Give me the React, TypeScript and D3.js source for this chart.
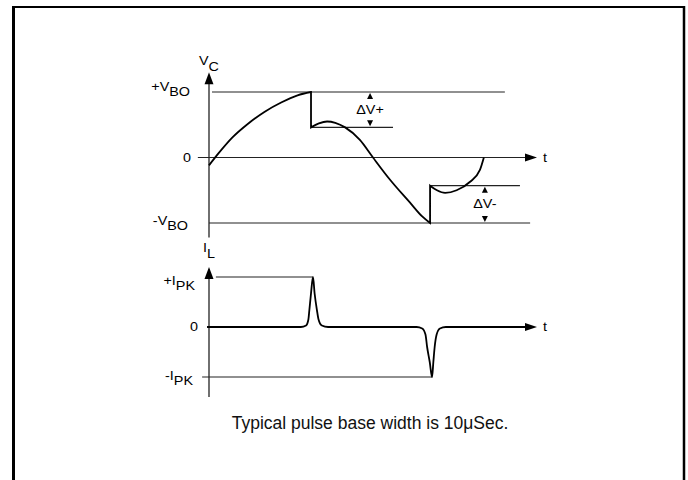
import React from "react";
import * as d3 from "d3";

// time in arbitrary units (0..100 along the t axis), values normalised to V_BO / I_PK
const vcRise: [number, number][] = [
  [0, -0.12], [3, 0.07], [7, 0.3], [12, 0.52], [17, 0.7], [22, 0.84], [27, 0.95], [31.1, 1],
];
const vcFall: [number, number][] = [
  [31.1, 0.46], [33.5, 0.52], [36, 0.55], [38.5, 0.53], [41.5, 0.46], [46, 0.27], [50, 0],
  [55.2, -0.34], [61.3, -0.69], [65, -0.9], [67.4, -1],
];
const vcRecover: [number, number][] = [
  [67.4, -0.43], [69.5, -0.5], [72, -0.54], [75.5, -0.5], [79.6, -0.37], [82.6, -0.19], [83.8, 0],
];

const ilCurve: [number, number][] = [
  [-0.6, 0], [28, 0], [29.6, 0.03], [30.3, 0.15], [30.6, 0.34], [31.1, 0.67], [31.7, 1],
  [32.2, 0.67], [32.9, 0.34], [33.4, 0.15], [34.4, 0.03], [36.3, 0],
  [63.3, 0], [65, -0.03], [66, -0.15], [66.5, -0.4], [67.3, -0.7], [68, -1],
  [68.4, -0.7], [68.8, -0.4], [69.4, -0.15], [70.4, -0.03], [72.2, 0], [98, 0],
];

// reference levels: value, start time, end time
const vLevels = [
  { v: 1, from: 0.9, to: 90.2 },
  { v: 0, from: -3.4, to: 98 },
  { v: -1, from: 0, to: 97.9 },
  { v: 0.46, from: 31.1, to: 56.1 },
  { v: -0.43, from: 67.4, to: 94.8 },
];
const iLevels = [
  { v: 1, from: 2.1, to: 31.6 },
  { v: -1, from: -2.1, to: 68 },
];

const deltas = [
  { label: "ΔV+", t: 49.1, hi: 1, lo: 0.46 },
  { label: "ΔV-", t: 84.1, hi: -0.43, lo: -1 },
];

const caption = "Typical pulse base width is 10μSec.";

const W = 688;
const H = 480;
const FONT = "'Liberation Sans', Arial, Helvetica, sans-serif";
const SX = 1.15;

const x = d3.scaleLinear().domain([0, 100]).range([209, 537]);
const yV = d3.scaleLinear().domain([-1, 1]).range([223, 92]);
const yI = d3.scaleLinear().domain([-1, 1]).range([377, 277]);

function Label(props: { x: number; y: number; main: string; sub?: string; sup?: string; anchor?: string }) {
  const { sub, sup, main, anchor = "end" } = props;
  return (
    <text
      transform={`translate(${props.x},${props.y}) scale(${SX},1)`}
      textAnchor={anchor}
      fontFamily={FONT}
      fontSize={12.5}
      fill="#000"
    >
      {sup !== undefined ? (
        <>
          <tspan dy={-5}>{sup}</tspan>
          <tspan dy={5}>{main}</tspan>
        </>
      ) : (
        <>
          <tspan>{main}</tspan>
          {sub !== undefined && <tspan dy={6}>{sub}</tspan>}
        </>
      )}
    </text>
  );
}

export default function App() {
  const lineV = d3.line<[number, number]>().x(d => x(d[0])).y(d => yV(d[1])).curve(d3.curveMonotoneX);
  const lineI = d3.line<[number, number]>().x(d => x(d[0])).y(d => yI(d[1])).curve(d3.curveMonotoneX);

  const vcPath =
    (lineV(vcRise) || "") +
    (lineV(vcFall) || "").replace(/^M/, "L") +
    (lineV(vcRecover) || "").replace(/^M/, "L");

  const x0 = x(0);
  const tTip = x(100);

  return (
    <svg width={W} height={H} style={{ position: "absolute", left: 0, top: 0 }}>
      <rect width={W} height={H} fill="#fff" />
      {/* frame */}
      <line x1={13.5} x2={13.5} y1={6} y2={H} stroke="#000" strokeWidth={3} />
      <line x1={12} x2={685} y1={7} y2={7} stroke="#000" strokeWidth={2} />
      <line x1={684} x2={684} y1={6} y2={H} stroke="#000" strokeWidth={2.5} />

      {/* upper panel: V_C */}
      {vLevels.map((l, i) => (
        <line key={i} x1={x(l.from)} x2={x(l.to)} y1={yV(l.v)} y2={yV(l.v)} stroke="#222" strokeWidth={1.2} />
      ))}
      <line x1={x0} x2={x0} y1={yV(1.25)} y2={yV(-1.22)} stroke="#222" strokeWidth={1.3} />
      <polygon points={`${x0},${yV(1.3)} ${x0 - 4.5},${yV(1.3) + 12} ${x0 + 4.5},${yV(1.3) + 12}`} fill="#000" />
      <polygon points={`${tTip},${yV(0)} ${tTip - 12},${yV(0) - 4} ${tTip - 12},${yV(0) + 4}`} fill="#000" />
      <path d={vcPath} fill="none" stroke="#000" strokeWidth={1.8} strokeLinejoin="miter" />

      {deltas.map((d, i) => {
        const cx = x(d.t);
        const top = yV(d.hi) + 1;
        const bot = yV(d.lo) - 1;
        return (
          <g key={i}>
            <polygon points={`${cx},${top} ${cx - 3},${top + 6} ${cx + 3},${top + 6}`} fill="#000" />
            <polygon points={`${cx},${bot} ${cx - 3},${bot - 6} ${cx + 3},${bot - 6}`} fill="#000" />
            <Label x={cx} y={(top + bot) / 2 + 4} main={d.label} anchor="middle" />
          </g>
        );
      })}

      <Label x={199} y={65} main="V" sub="C" anchor="start" />
      <Label x={190} y={yV(1) + 4} main="BO" sup="+V" />
      <Label x={191} y={yV(0) + 4} main="0" />
      <Label x={188} y={yV(-1) + 7} main="BO" sup="-V" />
      <Label x={543} y={yV(0) + 4} main="t" anchor="start" />

      {/* lower panel: I_L */}
      {iLevels.map((l, i) => (
        <line key={i} x1={x(l.from)} x2={x(l.to)} y1={yI(l.v)} y2={yI(l.v)} stroke="#222" strokeWidth={1.2} />
      ))}
      <line x1={x0} x2={x0} y1={yI(1.15)} y2={yI(-1.4)} stroke="#222" strokeWidth={1.3} />
      <polygon points={`${x0},${yI(1.2)} ${x0 - 4.5},${yI(1.2) + 12} ${x0 + 4.5},${yI(1.2) + 12}`} fill="#000" />
      <polygon points={`${tTip},${yI(0)} ${tTip - 12},${yI(0) - 4} ${tTip - 12},${yI(0) + 4}`} fill="#000" />
      <path d={lineI(ilCurve) || ""} fill="none" stroke="#000" strokeWidth={1.8} />

      <Label x={203} y={252} main="I" sub="L" anchor="start" />
      <Label x={195} y={yI(1) + 13} main="PK" sup="+I" />
      <Label x={198} y={yI(0) + 4} main="0" />
      <Label x={193} y={yI(-1) + 8} main="PK" sup="-I" />
      <Label x={543} y={yI(0) + 4} main="t" anchor="start" />

      <text x={370} y={429} textAnchor="middle" fontFamily={FONT} fontSize={17.5} fill="#111">
        {caption}
      </text>
    </svg>
  );
}
